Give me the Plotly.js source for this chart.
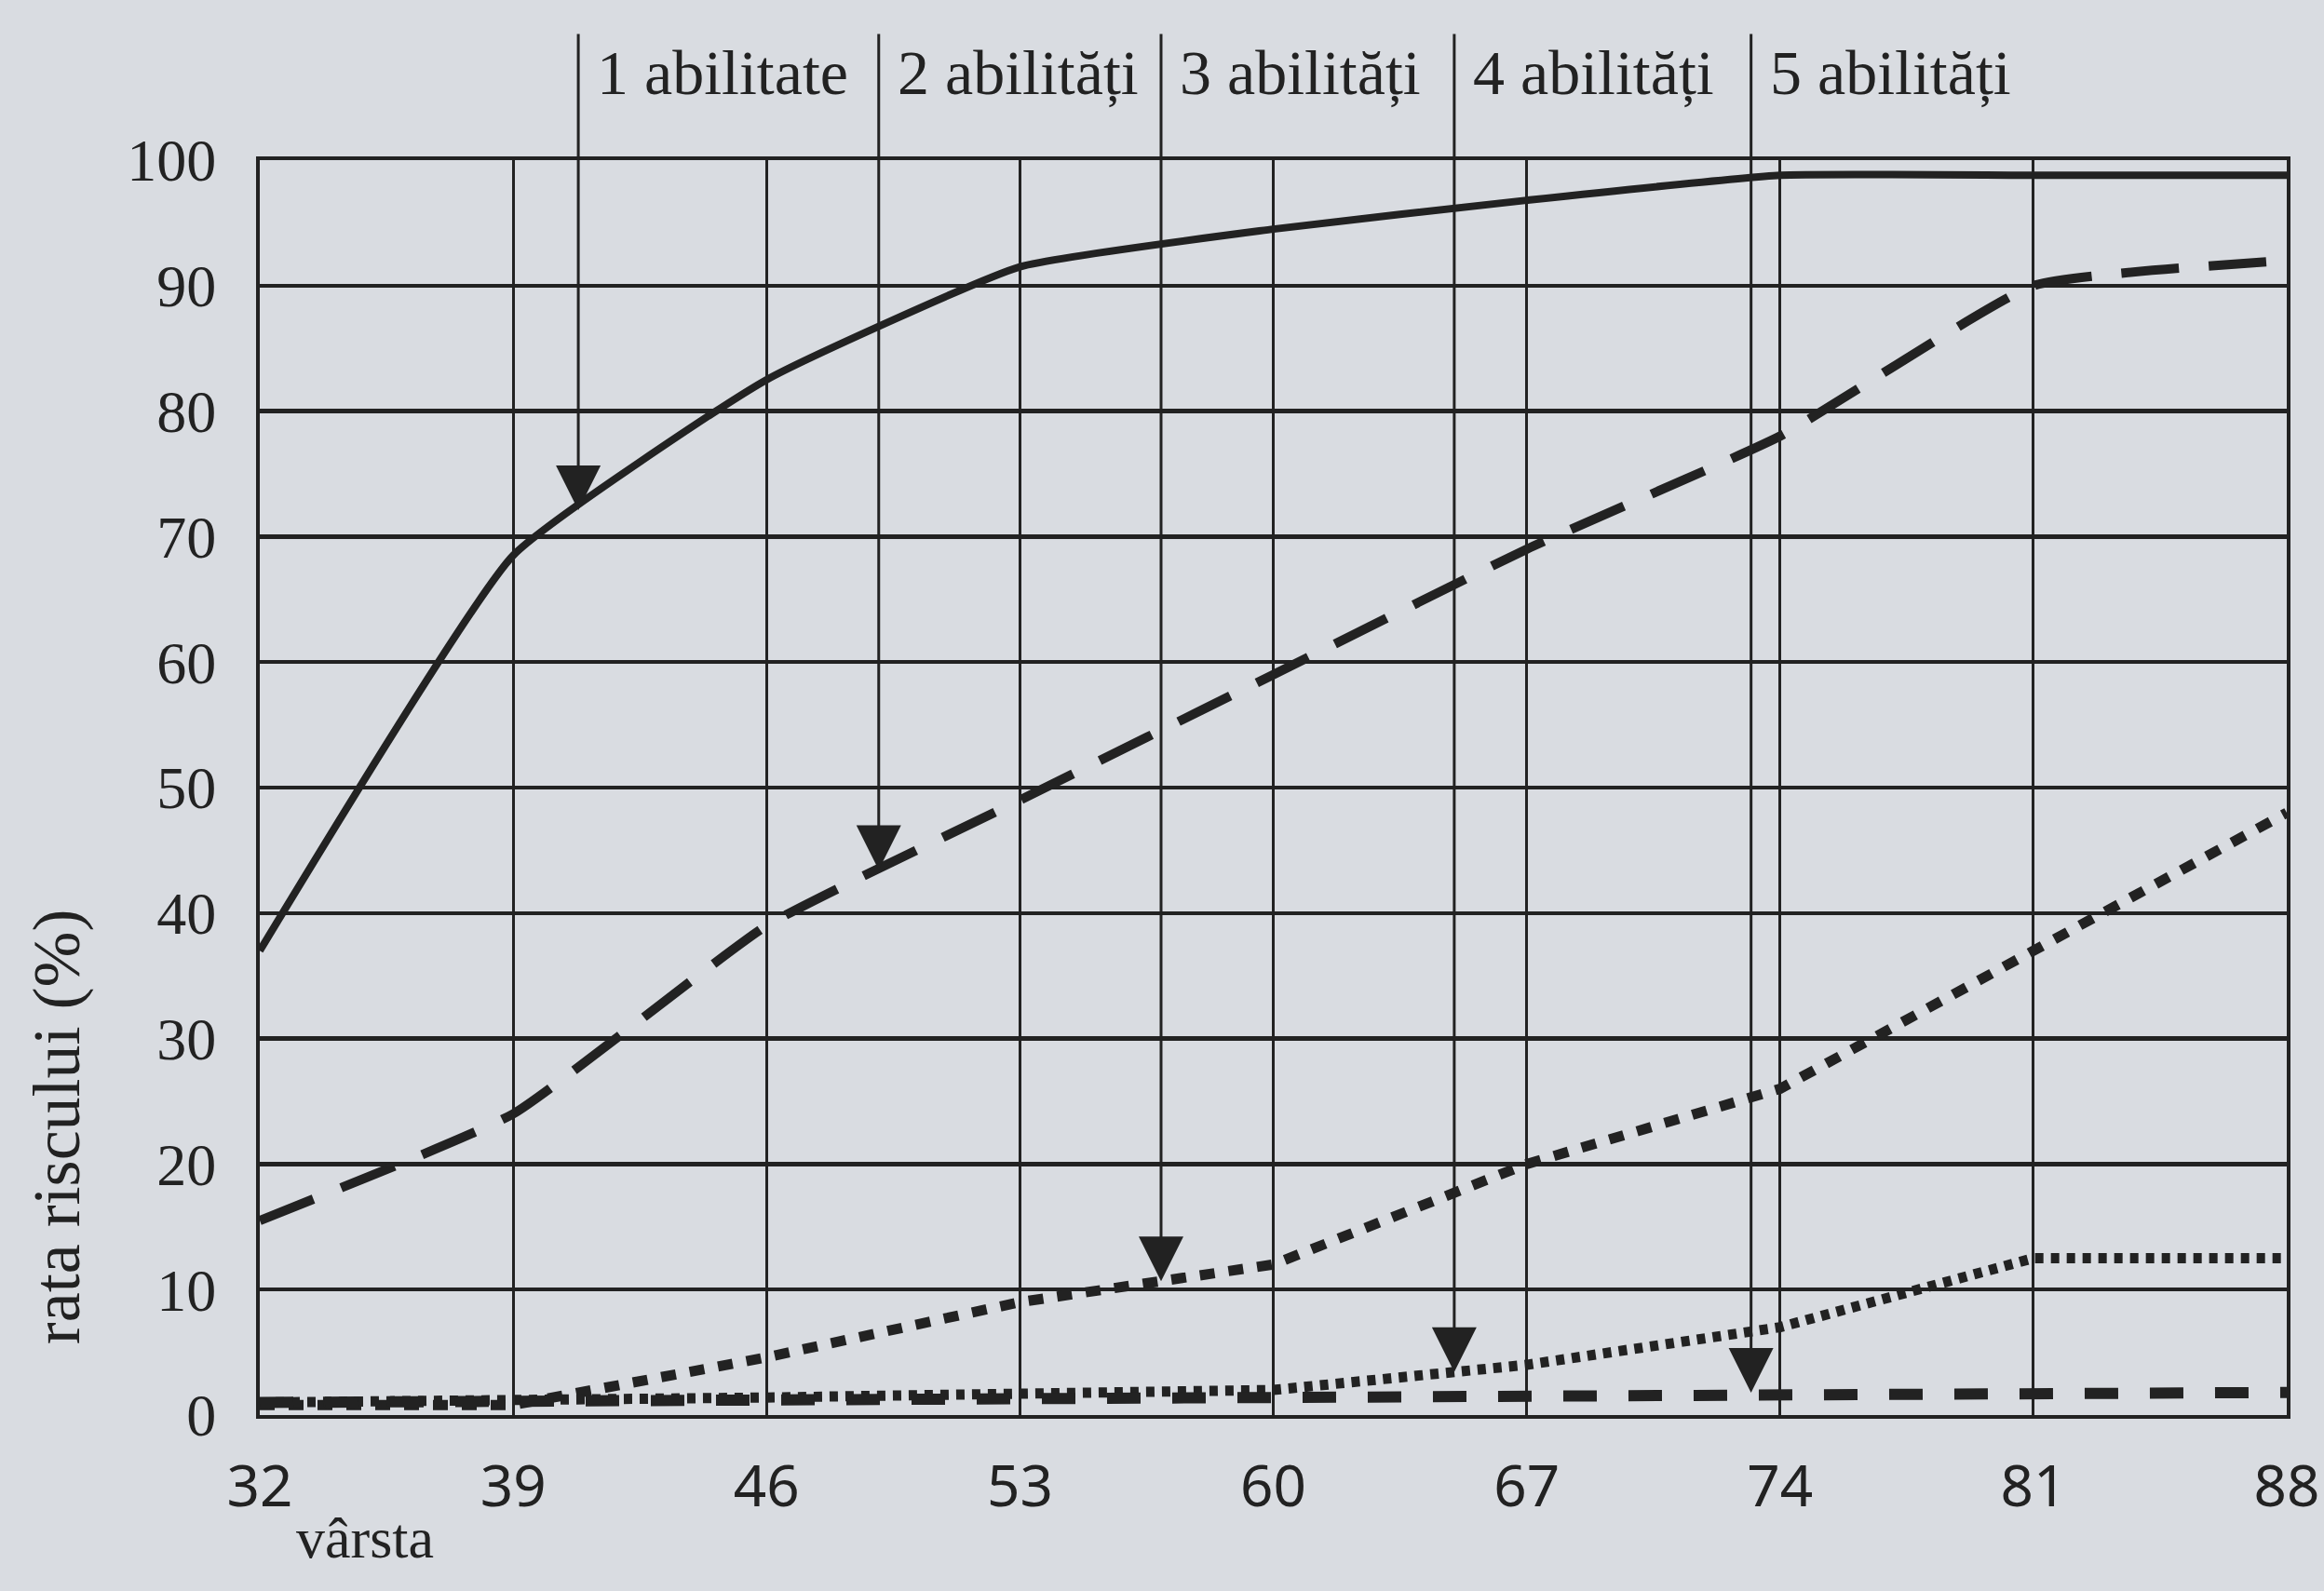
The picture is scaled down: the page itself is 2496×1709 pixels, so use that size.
<!DOCTYPE html>
<html>
<head>
<meta charset="utf-8">
<script src="https://cdn.plot.ly/plotly-3.0.1.min.js"></script>
<style>
  html, body { margin: 0; padding: 0; background: #d9dce1; }
  #chart { width: 2496px; height: 1709px; }
</style>
</head>
<body>
<div id="chart"></div>
<script>
// ---- data ----
const ages = [32, 39, 46, 53, 60, 67, 74, 81, 88];
const abil1 = [37, 68.5, 82.5, 91.5, 94.5, 96.8, 98.8, 98.8, 98.8];
const abil2 = [15.5, 24, 39, 49, 59, 69, 78, 90, 92];
const abil3 = [0.8, 0.8, 4.6, 9, 12, 20, 26, 37, 48];
const abil4 = [1.0, 1.1, 1.4, 1.7, 2, 4, 7, 12.5, 12.5];
const abil5 = [1.0, 1.1, 1.3, 1.4, 1.5, 1.6, 1.8, 1.8, 1.8];

const labels = ['1 abilitate', '2 abilități', '3 abilități', '4 abilități', '5 abilități'];
const arrowAges = [40.8, 49.1, 56.9, 65.0, 73.2];

const xTicks = [32, 39, 46, 53, 60, 67, 74, 81, 88];
const yTicks = [0, 10, 20, 30, 40, 50, 60, 70, 80, 90, 100];

const xTitle = 'vârsta';
const yTitle = 'rata riscului (%)';

// ---- drawing ----
const ink = '#222222';
const series = [abil1, abil2, abil3, abil4, abil5];
const styles = [
  { width: 8, dash: 'solid', shape: 'spline' },
  { width: 10, dash: '62px,32px', shape: 'spline' },
  { width: 11, dash: '16px,15px', shape: 'linear' },
  { width: 11, dash: '9px,8px', shape: 'linear' },
  { width: 12, dash: '36px,34px', shape: 'linear' }
];

const traces = series.map((s, i) => ({
  x: ages, y: s, type: 'scatter', mode: 'lines',
  name: labels[i],
  line: { color: ink, width: styles[i].width, dash: styles[i].dash,
          shape: styles[i].shape, smoothing: 0.4 },
  hoverinfo: 'skip', showlegend: false
}));

function interp(xs, ys, x) {
  for (let k = 0; k < xs.length - 1; k++) {
    if (x >= xs[k] && x <= xs[k + 1]) {
      const t = (x - xs[k]) / (xs[k + 1] - xs[k]);
      return ys[k] + t * (ys[k + 1] - ys[k]);
    }
  }
  return ys[ys.length - 1];
}

const annotations = [];
arrowAges.forEach((a, i) => {
  annotations.push({
    x: a, y: interp(ages, series[i], a), xref: 'x', yref: 'y',
    ax: a, ay: 110.8, axref: 'x', ayref: 'y',
    text: ' ', showarrow: true, arrowhead: 2, arrowsize: 3.2, arrowwidth: 3,
    arrowcolor: ink, standoff: 0, startstandoff: 0
  });
  annotations.push({
    x: a, y: 1.07, xref: 'x', yref: 'paper', xanchor: 'left', yanchor: 'middle',
    xshift: 18, text: labels[i], showarrow: false,
    font: { family: 'Liberation Serif', size: 68, color: ink }
  });
});
annotations.push({
  x: 0.052, y: -0.098, xref: 'paper', yref: 'paper', xanchor: 'center', yanchor: 'middle',
  text: xTitle, showarrow: false,
  font: { family: 'Liberation Serif', size: 62, color: ink }
});
annotations.push({
  x: -0.1, y: 0.23, xref: 'paper', yref: 'paper', xanchor: 'center', yanchor: 'middle',
  text: yTitle, textangle: -90, showarrow: false,
  font: { family: 'Liberation Serif', size: 72, color: ink }
});

const layout = {
  width: 2496, height: 1709,
  margin: { l: 279, r: 40, t: 172, b: 189 },
  paper_bgcolor: '#d9dce1', plot_bgcolor: '#d9dce1',
  showlegend: false,
  xaxis: {
    range: [32, 88], tickmode: 'array', tickvals: xTicks, ticktext: xTicks.map(String),
    showgrid: true, gridcolor: ink, gridwidth: 3,
    showline: true, linecolor: ink, linewidth: 4, mirror: true,
    zeroline: false, ticks: '', ticklabelstandoff: 20,
    tickfont: { family: 'Noto Sans', size: 62, color: ink }
  },
  yaxis: {
    range: [0, 100], tickmode: 'array', tickvals: yTicks, ticktext: yTicks.map(String),
    showgrid: true, gridcolor: ink, gridwidth: 4.5,
    showline: true, linecolor: ink, linewidth: 4, mirror: true,
    zeroline: false, ticks: '', ticklabelstandoff: 30,
    tickfont: { family: 'Liberation Serif', size: 64, color: ink }
  },
  annotations: annotations
};

Plotly.newPlot('chart', traces, layout, { displayModeBar: false, staticPlot: true });
</script>
</body>
</html>
